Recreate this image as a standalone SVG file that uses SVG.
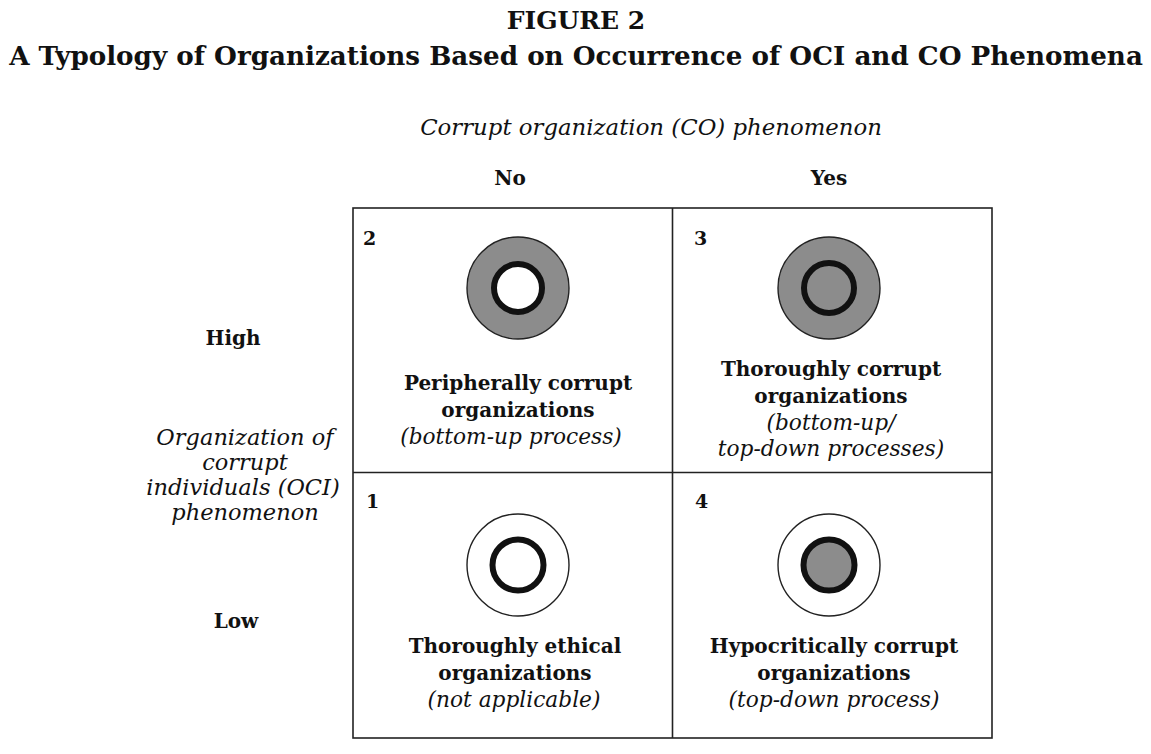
<svg xmlns="http://www.w3.org/2000/svg" width="1151" height="754" viewBox="0 0 1151 754">
<style>
text{font-family:"DejaVu Serif","Liberation Serif",serif;fill:#111;text-anchor:middle}
.t{font-weight:bold;font-size:25px}
.b{font-weight:bold;font-size:20px}
.i{font-style:italic;font-size:21.7px}
.l{font-style:italic;font-size:22.5px}
.n{font-weight:bold;font-size:19px;text-anchor:start}
.cell{fill:none;stroke:#222;stroke-width:1.6}
.outer{stroke:#222;stroke-width:1.4}
.ring{fill:none;stroke:#111;stroke-width:6}
</style>
<rect width="1151" height="754" fill="#fff"/>
<text class="t" x="576" y="29">FIGURE 2</text>
<text class="t" x="576" y="65" style="font-size:26.2px">A Typology of Organizations Based on Occurrence of OCI and CO Phenomena</text>
<text class="l" x="651" y="135" style="font-size:22.8px">Corrupt organization (CO) phenomenon</text>
<text class="b" x="510" y="185">No</text>
<text class="b" x="829" y="185">Yes</text>
<text class="b" x="233" y="345">High</text>
<text class="b" x="236" y="628">Low</text>
<text class="l" x="245" y="445">Organization of</text>
<text class="l" x="245" y="470">corrupt</text>
<text class="l" x="243" y="495">individuals (OCI)</text>
<text class="l" x="245" y="520">phenomenon</text>
<g id="grid">
<rect class="cell" x="353" y="208" width="639" height="530"/>
<line class="cell" x1="672.5" y1="208" x2="672.5" y2="738"/>
<line class="cell" x1="353" y1="472.5" x2="992" y2="472.5"/>
</g>
<g id="cell2">
<text class="n" x="363" y="245">2</text>
<circle class="outer" cx="518" cy="288" r="51" fill="#8c8c8c"/>
<circle cx="518" cy="288" r="24" fill="#fff" stroke="#111" stroke-width="6"/>
<text class="b" x="518" y="390">Peripherally corrupt</text>
<text class="b" x="518" y="417">organizations</text>
<text class="i" x="511" y="444">(bottom-up process)</text>
</g>
<g id="cell3">
<text class="n" x="694" y="245">3</text>
<circle class="outer" cx="829" cy="288" r="51" fill="#8c8c8c"/>
<circle class="ring" cx="829" cy="288" r="25"/>
<text class="b" x="831" y="376">Thoroughly corrupt</text>
<text class="b" x="831" y="403">organizations</text>
<text class="i" x="831" y="430">(bottom-up/</text>
<text class="i" x="831" y="456">top-down processes)</text>
</g>
<g id="cell1">
<text class="n" x="366" y="508">1</text>
<circle class="outer" cx="518" cy="565" r="51" fill="#fff"/>
<circle class="ring" cx="518" cy="565" r="25.5"/>
<text class="b" x="515" y="653">Thoroughly ethical</text>
<text class="b" x="515" y="680">organizations</text>
<text class="i" x="514" y="707">(not applicable)</text>
</g>
<g id="cell4">
<text class="n" x="695" y="508">4</text>
<circle class="outer" cx="829" cy="565" r="51" fill="#fff"/>
<circle cx="829" cy="565" r="25.5" fill="#8c8c8c" stroke="#111" stroke-width="6"/>
<text class="b" x="834" y="653">Hypocritically corrupt</text>
<text class="b" x="834" y="680">organizations</text>
<text class="i" x="834" y="707">(top-down process)</text>
</g>
</svg>
